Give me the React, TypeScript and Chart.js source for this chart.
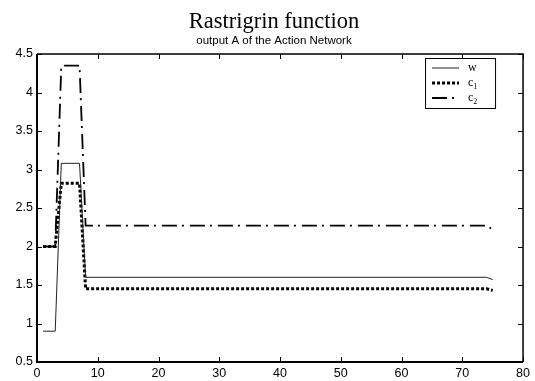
import { useEffect, useRef } from 'react';
import { Chart, registerables } from 'chart.js';
Chart.register(...registerables);

const xValues = [1, 3, 4, 7, 8, 74, 75];
const wValues = [0.9, 0.9, 3.08, 3.08, 1.6, 1.6, 1.57];
const c1Values = [2.0, 2.0, 2.82, 2.82, 1.45, 1.45, 1.43];
const c2Values = [2.0, 2.0, 4.35, 4.35, 2.27, 2.27, 2.22];
const xTicks = [0, 10, 20, 30, 40, 50, 60, 70, 80];
const yTicks = [0.5, 1, 1.5, 2, 2.5, 3, 3.5, 4, 4.5];
const titleText = 'Rastrigrin function';
const subtitleText = 'output A of the Action Network';
const legendItems = [
  { base: 'w', sub: '' },
  { base: 'c', sub: '1' },
  { base: 'c', sub: '2' },
];

const wStyle = { color: '#222', width: 1, dash: [] as number[] };
const c1Style = { color: '#000', width: 3, dash: [3, 2] };
const c2Style = { color: '#000', width: 1.8, dash: [15, 5, 2, 6] };
const styles = [wStyle, c1Style, c2Style];

const framePlugin = {
  id: 'framePlugin',
  afterDraw(chart: any) {
    const { ctx, chartArea } = chart;
    const { left, right, top, bottom } = chartArea;
    const xs = chart.scales.x;
    const ys = chart.scales.y;
    ctx.save();
    // inward ticks
    ctx.strokeStyle = '#000';
    ctx.lineWidth = 1;
    ctx.beginPath();
    const tl = 5;
    xTicks.forEach((v) => {
      const px = Math.round(xs.getPixelForValue(v)) + 0.5;
      ctx.moveTo(px, bottom);
      ctx.lineTo(px, bottom - tl);
      ctx.moveTo(px, top);
      ctx.lineTo(px, top + tl);
    });
    yTicks.forEach((v) => {
      const py = Math.round(ys.getPixelForValue(v)) + 0.5;
      ctx.moveTo(left, py);
      ctx.lineTo(left + tl, py);
      ctx.moveTo(right, py);
      ctx.lineTo(right - tl, py);
    });
    ctx.stroke();
    // frame
    ctx.lineWidth = 1.5;
    ctx.beginPath();
    ctx.moveTo(left, top);
    ctx.lineTo(right, top);
    ctx.lineTo(right, bottom);
    ctx.stroke();
    ctx.lineWidth = 2;
    ctx.beginPath();
    ctx.moveTo(left, top);
    ctx.lineTo(left, bottom);
    ctx.lineTo(right, bottom);
    ctx.stroke();

    // legend
    const bw = 70;
    const bh = 50;
    const bx = right - 28 - bw;
    const by = top + 4;
    ctx.fillStyle = '#fff';
    ctx.fillRect(bx, by, bw, bh);
    ctx.lineWidth = 1;
    ctx.strokeStyle = '#000';
    ctx.strokeRect(bx + 0.5, by + 0.5, bw, bh);
    const rows = [by + 10, by + 25, by + 40];
    legendItems.forEach((it, i) => {
      const st = styles[i];
      ctx.save();
      ctx.strokeStyle = st.color;
      ctx.lineWidth = st.width;
      ctx.setLineDash(st.dash);
      ctx.beginPath();
      ctx.moveTo(bx + 7, rows[i]);
      ctx.lineTo(bx + 34, rows[i]);
      ctx.stroke();
      ctx.restore();
      ctx.fillStyle = '#000';
      ctx.textBaseline = 'alphabetic';
      ctx.textAlign = 'left';
      ctx.font = '12px "Liberation Serif", serif';
      ctx.fillText(it.base, bx + 43, rows[i] + 3);
      if (it.sub) {
        const w = ctx.measureText(it.base).width;
        ctx.font = '8px "Liberation Serif", serif';
        ctx.fillText(it.sub, bx + 43 + w, rows[i] + 6);
      }
    });

    // titles
    const cx = 274;
    ctx.fillStyle = '#000';
    ctx.textAlign = 'center';
    ctx.textBaseline = 'alphabetic';
    ctx.font = '22.5px "Liberation Serif", serif';
    ctx.fillText(titleText, cx, 28);
    ctx.font = '11.5px "Liberation Sans", Arial, sans-serif';
    ctx.fillText(subtitleText, cx, 44);
    ctx.restore();
  },
};

export default function App() {
  const ref = useRef<HTMLCanvasElement | null>(null);
  useEffect(() => {
    document.body.style.margin = '0';
    const canvas = ref.current;
    if (!canvas) return;
    const mk = (vals: number[]) => xValues.map((x, i) => ({ x, y: vals[i] }));
    const tickFont = { family: '"Liberation Sans", Arial, sans-serif', size: 12.5, lineHeight: 1 };
    const chart = new Chart(canvas, {
      type: 'line',
      data: {
        datasets: [
          { label: 'w', data: mk(wValues), borderColor: wStyle.color, borderWidth: wStyle.width, borderDash: wStyle.dash, pointRadius: 0, tension: 0, fill: false },
          { label: 'c1', data: mk(c1Values), borderColor: c1Style.color, borderWidth: c1Style.width, borderDash: c1Style.dash, pointRadius: 0, tension: 0, fill: false },
          { label: 'c2', data: mk(c2Values), borderColor: c2Style.color, borderWidth: c2Style.width, borderDash: c2Style.dash, pointRadius: 0, tension: 0, fill: false },
        ],
      },
      options: {
        responsive: false,
        animation: false,
        events: [],
        layout: { padding: { top: 54, right: 7, left: 0, bottom: 0 } },
        plugins: { legend: { display: false }, title: { display: false }, tooltip: { enabled: false } },
        scales: {
          x: {
            type: 'linear',
            min: 0,
            max: 80,
            afterFit: (s: any) => { s.height = 19; },
            afterBuildTicks: (s: any) => { s.ticks = xTicks.map((v) => ({ value: v })); },
            ticks: { font: tickFont, color: '#000', padding: 5, autoSkip: false, maxRotation: 0 },
            grid: { display: false, drawTicks: false, tickLength: 0 },
            border: { display: false },
          },
          y: {
            type: 'linear',
            min: 0.5,
            max: 4.5,
            afterFit: (s: any) => { s.width = 37; },
            afterBuildTicks: (s: any) => { s.ticks = yTicks.map((v) => ({ value: v })); },
            ticks: { font: tickFont, color: '#000', padding: 4, autoSkip: false, callback: (v: any) => String(v) },
            grid: { display: false, drawTicks: false, tickLength: 0 },
            border: { display: false },
          },
        },
      },
      plugins: [framePlugin],
    });
    return () => chart.destroy();
  }, []);
  return <canvas ref={ref} width={535} height={381} style={{ display: 'block' }} />;
}
